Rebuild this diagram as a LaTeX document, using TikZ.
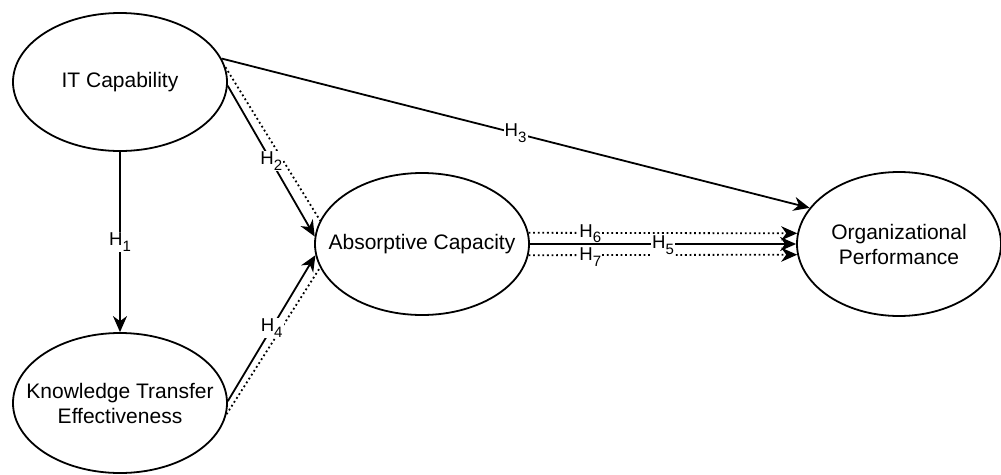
\documentclass[tikz,border=0pt]{standalone}
\usepackage{fontspec}
\setmainfont{Liberation Sans}
\usetikzlibrary{shapes.geometric,arrows.meta}
\newcommand\hyp[1]{H\raisebox{-5.5pt}{\fontsize{15}{15}\selectfont #1}}
\begin{document}
\begin{tikzpicture}[x=1pt,y=-1pt,
  construct/.style={ellipse,draw,line width=1.8pt,fill=white,inner xsep=-30pt,inner ysep=0pt,align=center,font=\fontsize{21}{25}\selectfont},
  tipstyle/.style={-{Stealth[length=16pt,width=14pt,inset=5pt]}},
  arr/.style={line width=1.8pt,tipstyle},
  dotline/.style={line width=1.8pt,dash pattern=on 1.8pt off 2.8pt},
  darr/.style={dotline,tipstyle},
  hlab/.style={fill=white,inner sep=1pt,font=\fontsize{18.6}{22}\selectfont}]
\useasboundingbox (0,0) rectangle (1001,474);

\node[construct,minimum width=214pt,minimum height=138pt] (IT) at (120,82) {IT Capability};
\node[construct,minimum width=214pt,minimum height=140pt] (KTE) at (120,403) {Knowledge Transfer\\Effectiveness};
\node[construct,minimum width=214pt,minimum height=142pt] (AC) at (422,244) {Absorptive Capacity};
\node[construct,minimum width=204pt,minimum height=144pt] (OP) at (899,244) {Organizational\\Performance};

% mediation (dotted) paths
\draw[dotline] (IT.8) -- (AC.167);
\draw[dotline] (KTE.-6) -- (AC.193);
\draw[darr] (AC.6) -- node[hlab,pos=0.23,yshift=-1pt]{\hyp{6}} (OP.174);
\draw[darr] (AC.-6) -- node[hlab,pos=0.23,yshift=-2pt]{\hyp{7}} (OP.186);

% direct paths
\draw[arr] (IT.south) -- node[hlab]{\hyp{1}} (KTE.north);
\draw[arr] (IT.-2) -- node[hlab]{\hyp{2}} (AC.176);
\draw[arr] (IT.13) -- node[hlab]{\hyp{3}} (OP.158);
\draw[arr] (KTE.1) -- node[hlab]{\hyp{4}} (AC.186);
\draw[arr] (AC.east) -- node[hlab,text depth=8pt,yshift=-2.2pt]{\hyp{5}} (OP.west);
\end{tikzpicture}
\end{document}
